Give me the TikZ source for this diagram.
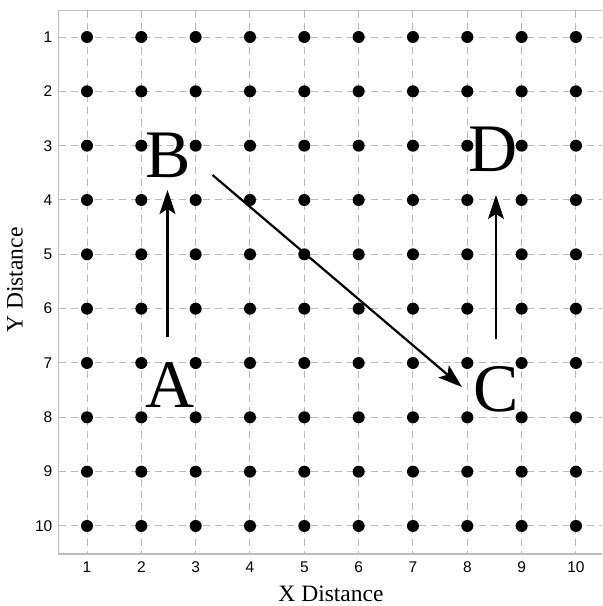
\documentclass[tikz,border=0pt]{standalone}
\usepackage{fontspec}
\setmainfont{Liberation Serif}
\newfontfamily\ticksans{Liberation Sans}
\usetikzlibrary{arrows.meta}
\definecolor{gridgray}{RGB}{185,185,185}
\definecolor{framegray}{RGB}{190,190,190}
\tikzset{
  gridline/.style={draw=gridgray, line width=1pt, dash pattern=on 7pt off 5pt},
  frameline/.style={draw=framegray, line width=1.2pt},
  dot/.style={circle, fill=black, inner sep=0pt, minimum size=12pt},
  ticklab/.style={font=\ticksans\fontsize{15.5}{15.5}\selectfont, inner sep=0pt},
  axtitle/.style={font=\fontsize{23.5}{23.5}\selectfont, inner sep=0pt},
  bigletter/.style={font=\fontsize{68}{68}\selectfont, inner sep=0pt},
  arr/.style={line width=2.2pt, -{Stealth[length=24pt, width=16pt, inset=5pt]}}
}
\begin{document}
\begin{tikzpicture}[x=1pt,y=-1pt]
\useasboundingbox (0,0) rectangle (603,606);
% grid lines
\foreach \i in {1,...,10} {
  \pgfmathsetmacro{\px}{87+(\i-1)*54.33}
  \draw[gridline] (\px,10.5) -- (\px,554);
  \draw[gridline] (58.5,\px-50) -- (602,\px-50);
}
% frame
\draw[frameline] (602,10.5) -- (58.5,10.5) -- (58.5,554) -- (602,554);
% dots
\foreach \i in {1,...,10} {
  \foreach \j in {1,...,10} {
    \pgfmathsetmacro{\px}{87+(\i-1)*54.33}
    \pgfmathsetmacro{\py}{37+(\j-1)*54.33}
    \node[dot] (d-\i-\j) at (\px,\py) {};
  }
}
% tick labels
\foreach \i in {1,...,10} {
  \pgfmathsetmacro{\px}{87+(\i-1)*54.33}
  \node[ticklab, anchor=center] (xt-\i) at (\px,567.5) {\i};
  \node[ticklab, anchor=east] (yt-\i) at (52.5,\px-50) {\i};
}
% axis titles
\node[axtitle] (xtitle) at (331,594) {X Distance};
\node[axtitle, rotate=90] (ytitle) at (15,280) {Y Distance};
% letters
\node[bigletter] (A) at (170,385) {A};
\node[bigletter] (B) at (168.5,155) {B};
\node[bigletter] (C) at (496.5,389) {C};
\node[bigletter] (D) at (493.5,149.5) {D};
% arrow endpoints
\coordinate (a0) at (167.5,337);
\coordinate (a1) at (167.5,190);
\coordinate (b0) at (212.5,175);
\coordinate (b1) at (462,387);
\coordinate (c0) at (496,339);
\coordinate (c1) at (496,195);
\draw[arr] (a0) -- (a1);
\draw[arr] (b0) -- (b1);
\draw[arr] (c0) -- (c1);
\end{tikzpicture}
\end{document}
